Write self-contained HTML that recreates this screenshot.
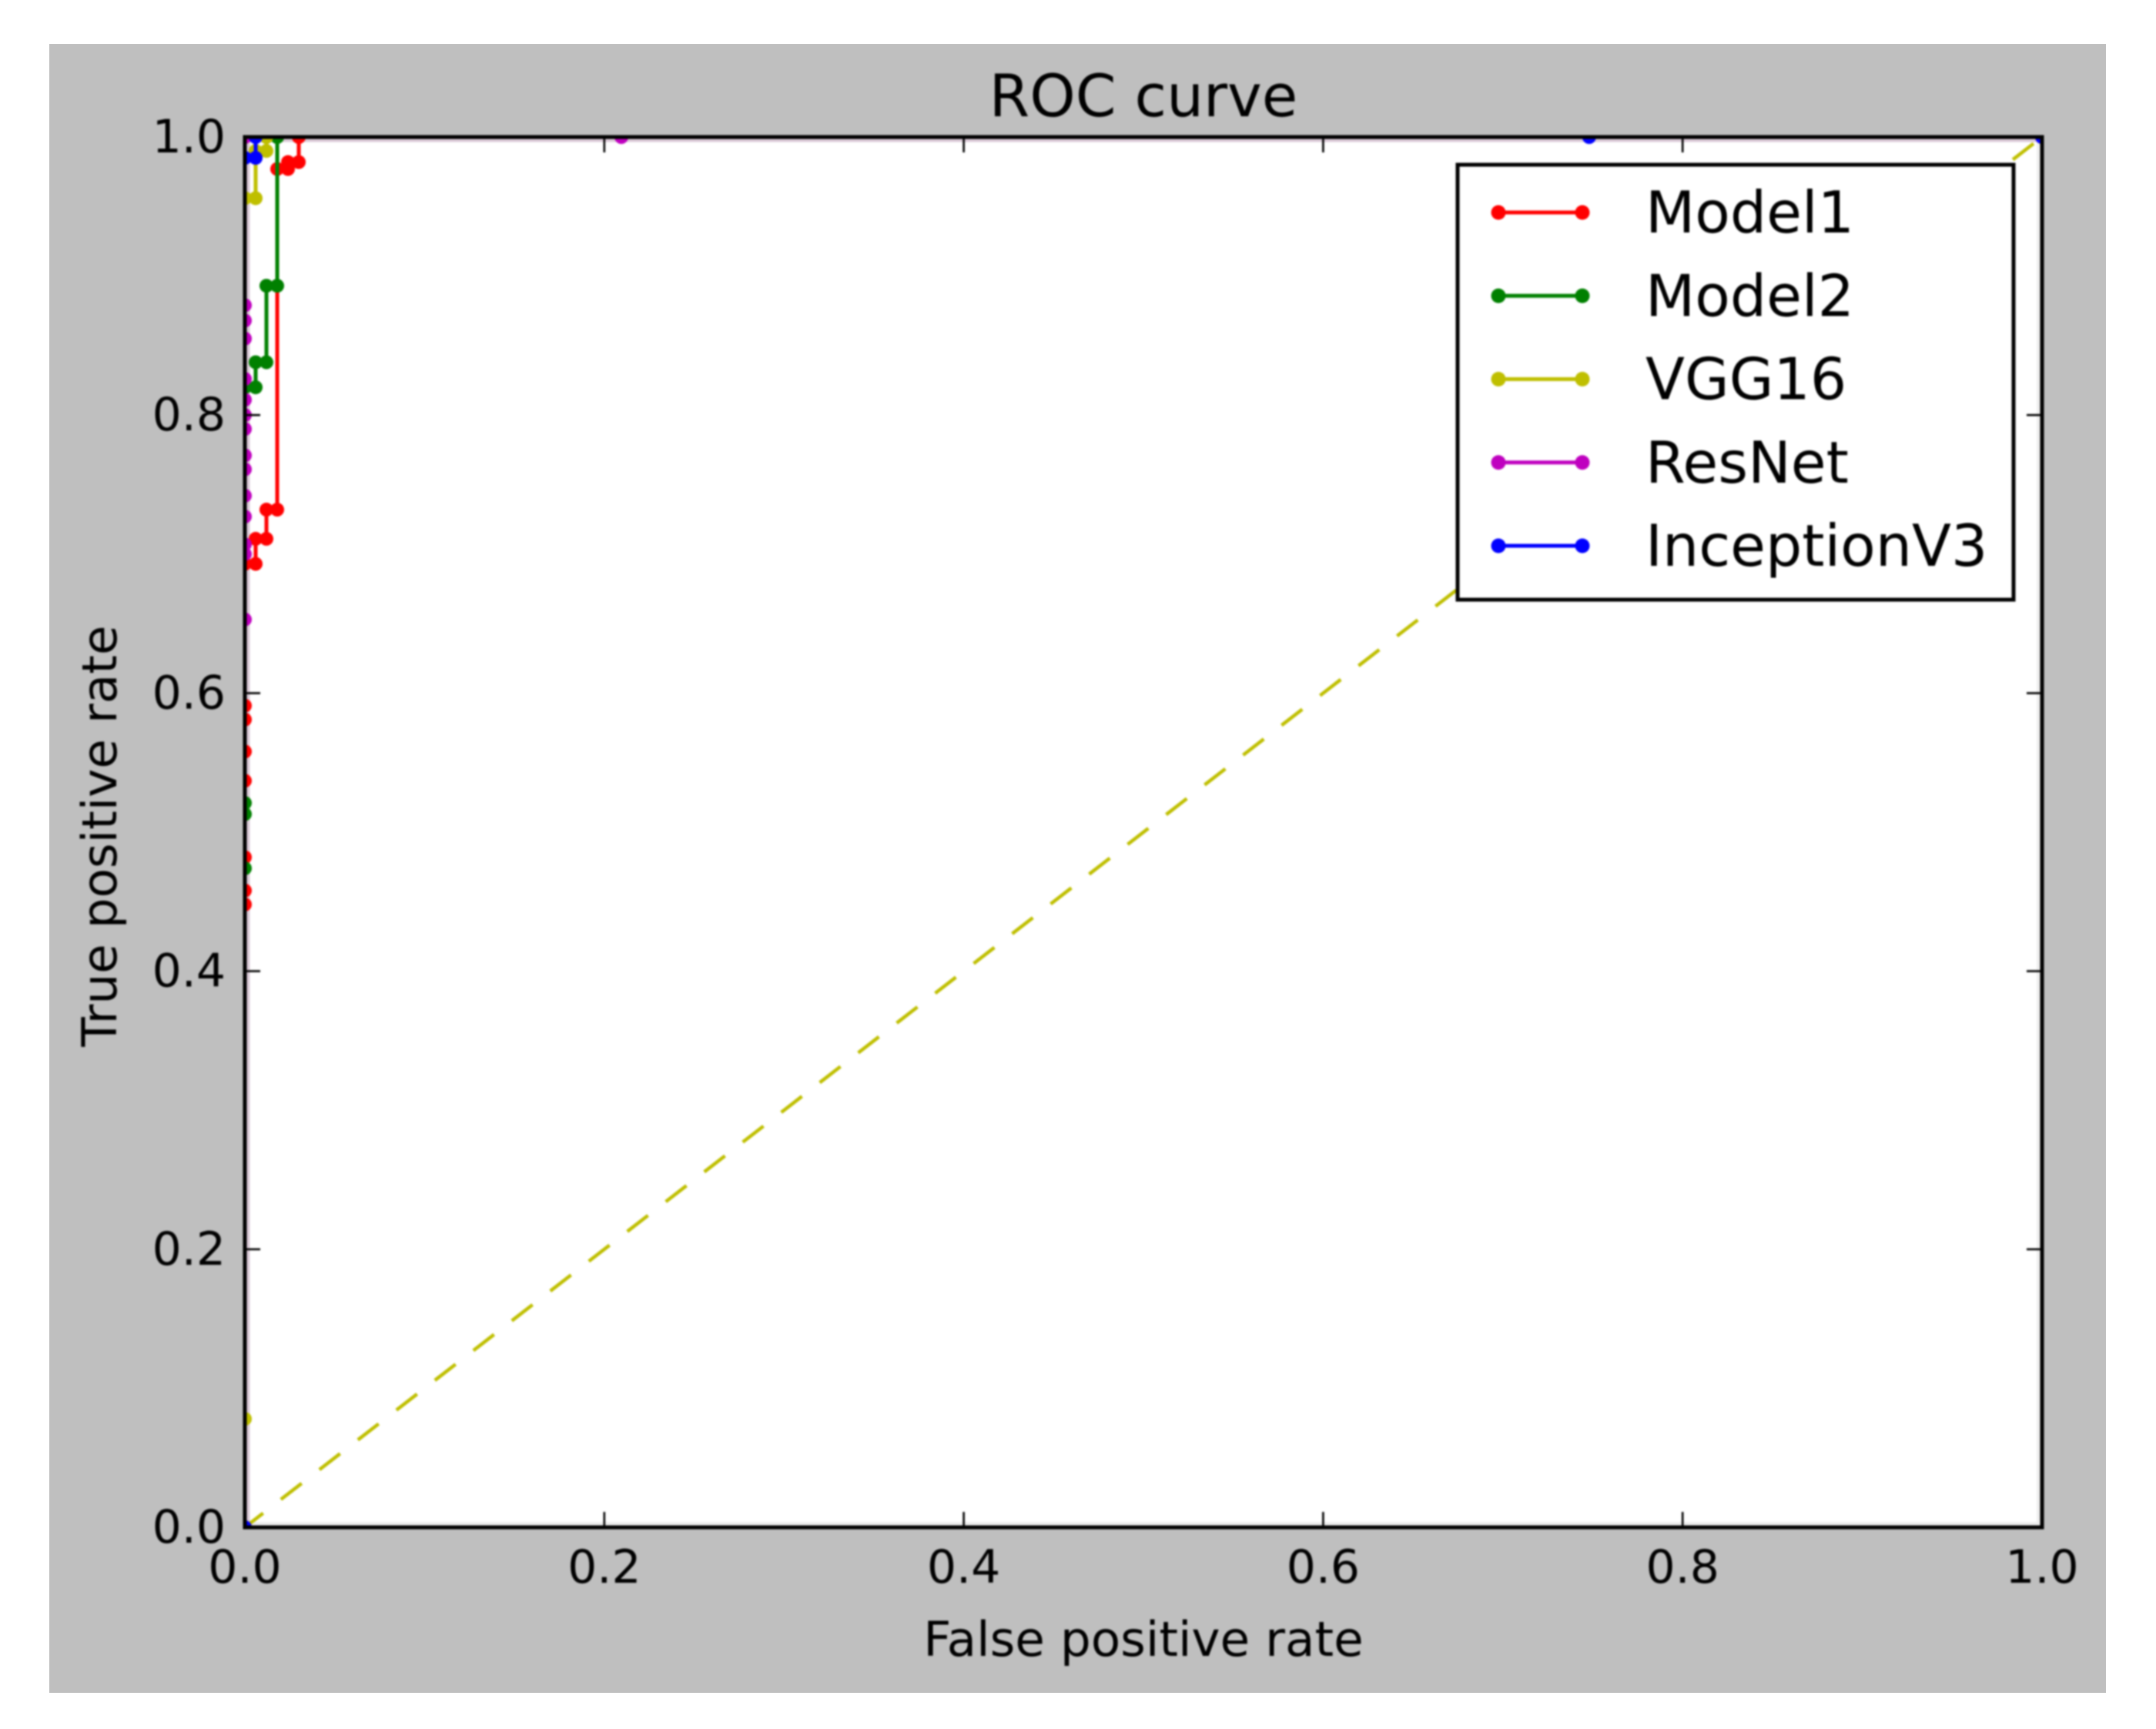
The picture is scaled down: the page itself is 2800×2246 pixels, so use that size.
<!DOCTYPE html>
<html lang="en">
<head>
<meta charset="utf-8">
<title>ROC curve</title>
<style>
  html, body { margin: 0; padding: 0; background: #ffffff; }
  #stage { position: relative; width: 2800px; height: 2246px; background: #ffffff; overflow: hidden; }
  #panel { position: absolute; left: 64px; top: 57px; width: 2671px; height: 2142px; background: #bfbfbf; }
  #chart { position: absolute; left: 0; top: 0; filter: blur(1px); }
  text { font-family: "DejaVu Sans", "Liberation Sans", sans-serif; fill: #000; }
</style>
</head>
<body>
<div id="stage">
  <div id="panel"></div>
  <svg id="chart" width="2800" height="2246" viewBox="0 0 2800 2246" xmlns="http://www.w3.org/2000/svg">
    <defs>
      <clipPath id="plot-clip"><rect x="318" y="178" width="2334" height="1806"></rect></clipPath>
    </defs>
    <rect x="318" y="178" width="2334" height="1806" fill="#ffffff"></rect>
    <g>
      <rect x="320" y="180" width="4.5" height="1802" fill="#dccbd8"></rect>
      <rect x="320" y="180" width="2330" height="4.5" fill="#dccbd8"></rect>
      <rect x="324" y="1977" width="2326" height="5" fill="#eeeeee"></rect>
      <rect x="2645" y="185" width="5" height="1797" fill="#eeeeee"></rect>
    </g>
    <g id="series-layer" clip-path="url(#plot-clip)"></g>
    <g id="tick-layer"></g>
    <rect x="318" y="178" width="2334" height="1806" fill="none" stroke="#000" stroke-width="5"></rect>
    <g id="tick-label-layer" font-size="60"></g>
    <text x="1485" y="151" font-size="75.6" text-anchor="middle">ROC curve</text>
    <text x="1485" y="2151" font-size="62.8" text-anchor="middle">False positive rate</text>
    <text x="151" y="1086" font-size="62.8" text-anchor="middle" transform="rotate(-90 151 1086)">True positive rate</text>
    <g id="legend-layer">
      <rect x="1893" y="214" width="722" height="565" fill="#ffffff" stroke="#000" stroke-width="5"></rect>
    </g>
  </svg>
</div>
<script>
const tickValues = [0, 0.2, 0.4, 0.6, 0.8, 1];
const tickLabels = ["0.0", "0.2", "0.4", "0.6", "0.8", "1.0"];

const chanceFpr = [0, 1];
const chanceTpr = [0, 1];

const model1Fpr = [0, 0, 0, 0, 0, 0, 0, 0, 0, 0.006, 0.006, 0.012, 0.012, 0.018, 0.018, 0.024, 0.024, 0.03, 0.03, 1];
const model1Tpr = [0, 0.448, 0.458, 0.482, 0.537, 0.558, 0.581, 0.591, 0.693, 0.693, 0.711, 0.711, 0.732, 0.732, 0.977, 0.977, 0.982, 0.982, 1, 1];

const model2Fpr = [0, 0, 0, 0, 0, 0.006, 0.006, 0.012, 0.012, 0.018, 0.018, 1];
const model2Tpr = [0, 0.474, 0.513, 0.521, 0.82, 0.82, 0.838, 0.838, 0.893, 0.893, 1, 1];

const vgg16Fpr = [0, 0, 0, 0.006, 0.006, 0.012, 0.012, 1];
const vgg16Tpr = [0, 0.078, 0.956, 0.956, 0.99, 0.99, 1, 1];

const resnetFpr = [0, 0, 0, 0, 0, 0, 0, 0, 0, 0, 0, 0, 0, 0, 0, 0, 0.2095, 1];
const resnetTpr = [0, 0.653, 0.7, 0.707, 0.727, 0.742, 0.761, 0.771, 0.79, 0.8, 0.811, 0.826, 0.855, 0.868, 0.879, 1, 1, 1];

const inceptionFpr = [0, 0, 0.006, 0.006, 0.748, 1];
const inceptionTpr = [0, 0.985, 0.985, 1, 1, 1];

const seriesNames = ["Model1", "Model2", "VGG16", "ResNet", "InceptionV3"];
const seriesColors = ["#ff0000", "#008000", "#bfbf00", "#bf00bf", "#0000ff"];
const seriesFpr = [model1Fpr, model2Fpr, vgg16Fpr, resnetFpr, inceptionFpr];
const seriesTpr = [model1Tpr, model2Tpr, vgg16Tpr, resnetTpr, inceptionTpr];

const SVG_NS = "http://www.w3.org/2000/svg";
const AX = { left: 318, right: 2652, top: 178, bottom: 1984 };
function xScale(v) { return AX.left + v * (AX.right - AX.left); }
function yScale(v) { return AX.bottom - v * (AX.bottom - AX.top); }
function slug(s) { return s.toLowerCase(); }

const seriesLayer = document.getElementById("series-layer");
const tickLayer = document.getElementById("tick-layer");
const tickLabelLayer = document.getElementById("tick-label-layer");
const legendLayer = document.getElementById("legend-layer");

const chance = document.createElementNS(SVG_NS, "polyline");


chance.setAttribute("points", chanceFpr.map((v, i) => xScale(v) + "," + yScale(chanceTpr[i])).join(" "));
chance.setAttribute("fill", "none");
chance.setAttribute("stroke", "#bfbf00");
chance.setAttribute("stroke-width", "4.5");
chance.setAttribute("stroke-dasharray", "34 29.2");
chance.setAttribute("stroke-dashoffset", "4");
seriesLayer.appendChild(chance);

seriesNames.forEach(function (name, s) {
  const group = document.createElementNS(SVG_NS, "g");
  
  
  const line = document.createElementNS(SVG_NS, "polyline");
  
  
  line.setAttribute("points", seriesFpr[s].map((v, i) => xScale(v) + "," + yScale(seriesTpr[s][i])).join(" "));
  line.setAttribute("fill", "none");
  line.setAttribute("stroke", seriesColors[s]);
  line.setAttribute("stroke-width", "5");
  group.appendChild(line);
  seriesFpr[s].forEach(function (v, i) {
    const point = document.createElementNS(SVG_NS, "circle");
    
    
    point.setAttribute("cx", xScale(v));
    point.setAttribute("cy", yScale(seriesTpr[s][i]));
    point.setAttribute("r", "9");
    point.setAttribute("fill", seriesColors[s]);
    group.appendChild(point);
  });
  seriesLayer.appendChild(group);
});

function addTick(x1, y1, x2, y2) {
  const tick = document.createElementNS(SVG_NS, "line");
  
  
  tick.setAttribute("x1", x1);
  tick.setAttribute("y1", y1);
  tick.setAttribute("x2", x2);
  tick.setAttribute("y2", y2);
  tick.setAttribute("stroke", "#000");
  tick.setAttribute("stroke-width", "2.6");
  tickLayer.appendChild(tick);
}

tickValues.forEach(function (v, i) {
  const x = xScale(v);
  const y = yScale(v);
  addTick(x, AX.bottom, x, AX.bottom - 20);
  addTick(x, AX.top, x, AX.top + 20);
  addTick(AX.left, y, AX.left + 20, y);
  addTick(AX.right, y, AX.right - 20, y);

  const xLabel = document.createElementNS(SVG_NS, "text");
  
  
  xLabel.setAttribute("x", x);
  xLabel.setAttribute("y", 2056);
  xLabel.setAttribute("text-anchor", "middle");
  xLabel.textContent = tickLabels[i];
  tickLabelLayer.appendChild(xLabel);

  const yLabel = document.createElementNS(SVG_NS, "text");
  
  
  yLabel.setAttribute("x", 293);
  yLabel.setAttribute("y", y + 20);
  yLabel.setAttribute("text-anchor", "end");
  yLabel.textContent = tickLabels[i];
  tickLabelLayer.appendChild(yLabel);
});

seriesNames.forEach(function (name, s) {
  const rowY = 276 + s * 108.25;
  const entry = document.createElementNS(SVG_NS, "g");
  
  
  const swatch = document.createElementNS(SVG_NS, "line");
  
  
  swatch.setAttribute("x1", 1946);
  swatch.setAttribute("x2", 2055);
  swatch.setAttribute("y1", rowY);
  swatch.setAttribute("y2", rowY);
  swatch.setAttribute("stroke", seriesColors[s]);
  swatch.setAttribute("stroke-width", "5");
  entry.appendChild(swatch);
  [1946, 2055].forEach(function (cx) {
    const dot = document.createElementNS(SVG_NS, "circle");
    
    
    dot.setAttribute("cx", cx);
    dot.setAttribute("cy", rowY);
    dot.setAttribute("r", "9.5");
    dot.setAttribute("fill", seriesColors[s]);
    entry.appendChild(dot);
  });
  const label = document.createElementNS(SVG_NS, "text");
  
  
  label.setAttribute("x", 2137);
  label.setAttribute("y", rowY + 26);
  label.setAttribute("font-size", "74.5");
  label.textContent = name;
  entry.appendChild(label);
  legendLayer.appendChild(entry);
});
</script>
</body>
</html>
